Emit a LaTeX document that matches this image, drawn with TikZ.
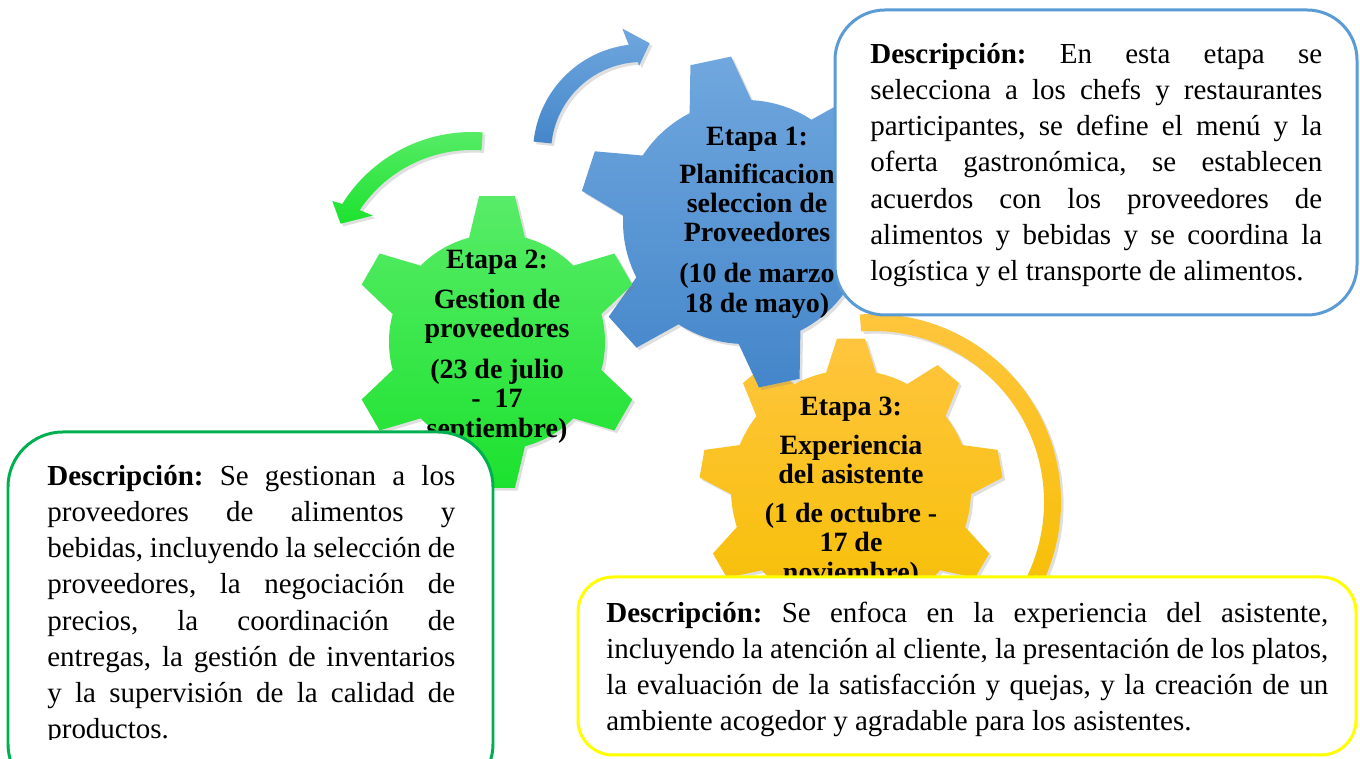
\documentclass[tikz,border=0pt]{standalone}
\usepackage{fontspec}
\setmainfont{Liberation Serif}
\usetikzlibrary{shadows}
\definecolor{descblue}{RGB}{91,155,213}
\definecolor{descgreen}{RGB}{0,176,80}
\definecolor{descyellow}{RGB}{255,255,0}
\definecolor{bluetop}{RGB}{112,167,222}
\definecolor{bluebot}{RGB}{68,134,202}
\definecolor{greentop}{RGB}{88,236,104}
\definecolor{greenbot}{RGB}{28,226,46}
\definecolor{yellowtop}{RGB}{255,197,62}
\definecolor{yellowbot}{RGB}{246,191,0}

\begin{document}
\begin{tikzpicture}[x=0.02cm,y=0.02cm,
  gearfill/.style={drop shadow={shadow xshift=1.5pt,shadow yshift=-1.5pt,opacity=.25}},
  gearlabel/.style={anchor=north,inner sep=0pt,align=center,font=\fontsize{15.9pt}{16.6pt}\selectfont\bfseries},
  descbox/.style={fill=white,line width=1.7pt},
  desctext/.style={anchor=north west,inner sep=0pt,align=justify,font=\fontsize{16.5pt}{20.6pt}\selectfont\frenchspacing}]
\useasboundingbox (0,0) rectangle (1360,759);

\shade[gearfill,top color=yellowtop,bottom color=yellowbot,shift={(873,257)}]
  (94:188) arc[start angle=94,end angle=-40,radius=188] -- (-40:171)
  arc[start angle=-40,end angle=94,radius=171] -- cycle;
\shade[gearfill,top color=yellowtop,bottom color=yellowbot,shift={(851,269)}]
  (78:120) \foreach \a in {90,130,...,410} {
    -- ({\a-12}:120) -- ({\a-5.3}:152) -- ({\a+5.3}:152) -- ({\a+12}:120)
    arc[start angle=\a+12,end angle=\a+28,radius=120]} -- cycle;

\shade[gearfill,top color=bluetop,bottom color=bluebot,shift={(642,606)}]
  (174:109) arc[start angle=174,end angle=97,radius=109] -- (99:126) -- (86:110)
  -- (92:87) -- (92.5:91) arc[start angle=92.5,end angle=174,radius=91] -- cycle;
\shade[gearfill,top color=greentop,bottom color=greenbot,shift={(472,474)}]
  (86:153) arc[start angle=86,end angle=148,radius=153] -- (149:163) -- (155:145)
  -- (145:121) -- (146.3:135) arc[start angle=146.3,end angle=86,radius=135] -- cycle;

\shade[gearfill,top color=bluetop,bottom color=bluebot,shift={(745,537)}]
  (87:122) \foreach \a in {102,162,...,402} {
    -- ({\a-15}:122) -- ({\a-7.2}:166) -- ({\a+7.2}:166) -- ({\a+15}:122)
    arc[start angle=\a+15,end angle=\a+45,radius=122]} -- cycle;
\shade[gearfill,top color=greentop,bottom color=greenbot,shift={(497,417)}]
  (75:108) \foreach \a in {90,150,...,390} {
    -- ({\a-15}:108) -- ({\a-7}:147) -- ({\a+7}:147) -- ({\a+15}:108)
    arc[start angle=\a+15,end angle=\a+45,radius=108]} -- cycle;

\node[gearlabel] (etapa3) at (851,366.4) {\rule{0pt}{0.448cm}Etapa 3:\\[0.2cm]
  Experiencia\\ del asistente\\[0.2cm] (1 de octubre -\\ 17 de\\ noviembre)};
\node[gearlabel] (etapa1) at (757,636.4) {\rule{0pt}{0.448cm}Etapa 1:\\[0.18cm]
  Planificacion\\ seleccion de\\ Proveedores\\[0.24cm] (10 de marzo\\ 18 de mayo)};
\node[gearlabel] (etapa2) at (497,513.4) {\rule{0pt}{0.448cm}Etapa 2:\\[0.22cm]
  Gestion de\\ proveedores\\[0.24cm] (23 de julio\\ -\ \ 17\\ septiembre)};

\draw[descbox,draw=descblue,rounded corners=1cm] (835,444) rectangle (1357,749);
\node[desctext,text width=9.04cm] (desc1) at (870,721.3) {\strut\textbf{Descripción:} En esta etapa se\linebreak
  selecciona a los chefs y restaurantes\linebreak participantes, se define el menú y la\linebreak
  oferta gastronómica, se establecen\linebreak acuerdos con los proveedores de\linebreak
  alimentos y bebidas y se coordina la\linebreak logística y el transporte de alimentos.};

\draw[descbox,draw=descgreen,rounded corners=1.1cm] (8,-40) rectangle (493,327);
\begin{scope}
\clip (8,19) rectangle (493,327);
\node[desctext,text width=8.16cm] (desc2) at (47,299.3) {\strut\textbf{Descripción:} Se gestionan a los\linebreak
  proveedores de alimentos y\linebreak bebidas, incluyendo la selección de\linebreak
  proveedores, la negociación de\linebreak precios, la coordinación de\linebreak
  entregas, la gestión de inventarios\linebreak y la supervisión de la calidad de\linebreak productos.};
\end{scope}

\draw[descbox,draw=descyellow,rounded corners=0.7cm] (578,4) rectangle (1356,182);
\begin{scope}
\clip (578,20) rectangle (1356,182);
\node[desctext,text width=14.44cm] (desc3) at (606,162.3) {\strut\textbf{Descripción:} Se enfoca en la experiencia del asistente,\linebreak
  incluyendo la atención al cliente, la presentación de los platos,\linebreak
  la evaluación de la satisfacción y quejas, y la creación de un\linebreak
  ambiente acogedor y agradable para los asistentes.};
\end{scope}
\end{tikzpicture}
\end{document}
